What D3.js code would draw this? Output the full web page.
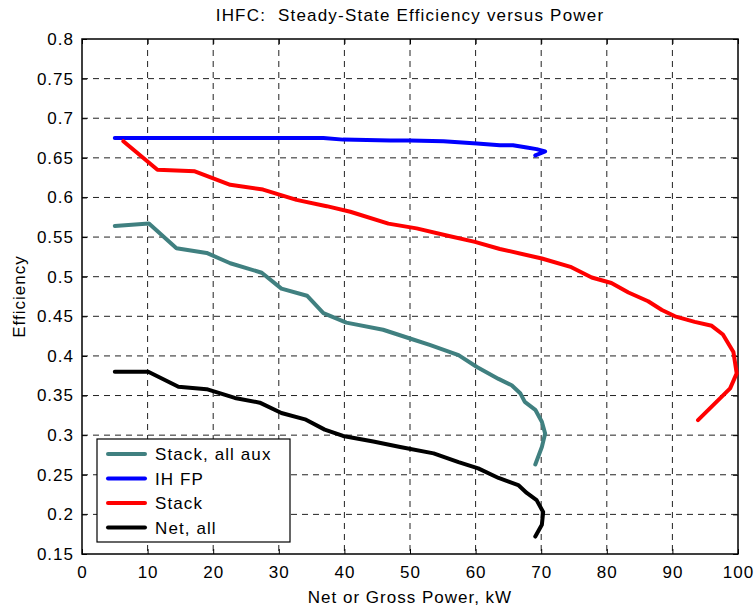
<!DOCTYPE html>
<html>
<head>
<meta charset="utf-8">
<script src="https://cdn.jsdelivr.net/npm/d3@7"></script>
<style>
  body { margin: 0; background: #fff; }
  text { font-family: "Liberation Sans", Arial, sans-serif; }
</style>
</head>
<body>
<svg id="chart" width="756" height="611"></svg>
<script>
// x = net or gross power (kW), y = efficiency
var stackAuxX = [5.0, 10.2, 14.4, 19.0, 22.6, 27.4, 30.4, 34.3, 36.8, 40.3, 45.9, 50.0, 53.0, 57.4, 60.2, 63.5, 65.5, 66.8, 67.5, 69.1, 70.1, 70.6, 70.1, 69.1];
var stackAuxY = [0.564, 0.567, 0.536, 0.530, 0.517, 0.505, 0.485, 0.476, 0.454, 0.442, 0.433, 0.422, 0.414, 0.401, 0.386, 0.371, 0.363, 0.353, 0.342, 0.332, 0.317, 0.302, 0.285, 0.263];

var ihfpX = [5.0, 36.8, 39.8, 47.0, 50.0, 55.1, 60.2, 63.7, 65.7, 67.8, 69.3, 70.6, 69.1];
var ihfpY = [0.675, 0.675, 0.673, 0.672, 0.672, 0.671, 0.668, 0.666, 0.666, 0.663, 0.661, 0.658, 0.653];

var stackX = [6.3, 11.5, 17.2, 22.6, 27.6, 32.7, 37.3, 40.9, 46.7, 51.0, 55.6, 59.9, 63.7, 70.1, 74.6, 77.7, 80.7, 83.3, 86.3, 88.4, 90.4, 93.4, 96.0, 97.7, 99.3, 99.8, 98.8, 93.9];
var stackY = [0.671, 0.635, 0.633, 0.616, 0.610, 0.597, 0.589, 0.582, 0.567, 0.561, 0.552, 0.544, 0.535, 0.523, 0.512, 0.499, 0.492, 0.480, 0.469, 0.458, 0.450, 0.443, 0.438, 0.427, 0.405, 0.378, 0.359, 0.319];

var netX = [5.0, 10.1, 14.7, 19.0, 23.3, 27.1, 30.4, 34.0, 37.0, 39.8, 44.4, 48.5, 53.6, 57.4, 60.4, 63.5, 66.5, 67.8, 69.3, 70.3, 70.1, 69.1];
var netY = [0.380, 0.380, 0.361, 0.358, 0.347, 0.341, 0.328, 0.320, 0.307, 0.299, 0.292, 0.285, 0.277, 0.266, 0.258, 0.246, 0.237, 0.227, 0.218, 0.203, 0.187, 0.172];

var xTicks = [0, 10, 20, 30, 40, 50, 60, 70, 80, 90, 100];
var yTicks = [0.15, 0.2, 0.25, 0.3, 0.35, 0.4, 0.45, 0.5, 0.55, 0.6, 0.65, 0.7, 0.75, 0.8];

var seriesNames = ["Stack, all aux", "IH FP", "Stack", "Net, all"];
var seriesColors = ["#408080", "#0000ff", "#ff0000", "#000000"];

var svg = d3.select("#chart"),
    margin = {top: 39, right: 18, bottom: 57, left: 82},
    width = +svg.attr("width") - margin.left - margin.right,
    height = +svg.attr("height") - margin.top - margin.bottom;

var x = d3.scaleLinear().domain([0, 100]).range([0, width]),
    y = d3.scaleLinear().domain([0.15, 0.8]).range([height, 0]);

var g = svg.append("g")
    .attr("transform", "translate(" + margin.left + "," + margin.top + ")");

// grid
g.append("g").selectAll("line")
    .data(xTicks.slice(1, -1))
    .enter().append("line")
    .attr("x1", function(d) { return x(d); })
    .attr("x2", function(d) { return x(d); })
    .attr("y1", 0).attr("y2", height)
    .attr("stroke", "#222").attr("stroke-width", 1)
    .attr("stroke-dasharray", "6,5");

g.append("g").selectAll("line")
    .data(yTicks.slice(1, -1))
    .enter().append("line")
    .attr("y1", function(d) { return y(d); })
    .attr("y2", function(d) { return y(d); })
    .attr("x1", 0).attr("x2", width)
    .attr("stroke", "#222").attr("stroke-width", 1)
    .attr("stroke-dasharray", "6,5");

// axes, ticks inward
var fmtY = function(d) { return d3.format("")(+d.toFixed(2)); };

g.append("g")
    .attr("transform", "translate(0," + height + ")")
    .call(d3.axisBottom(x).tickValues(xTicks).tickSizeInner(-5).tickSizeOuter(0).tickPadding(12))
    .call(function(a) { a.select(".domain").remove(); });

g.append("g")
    .call(d3.axisLeft(y).tickValues(yTicks).tickFormat(fmtY).tickSizeInner(-5).tickSizeOuter(0).tickPadding(8))
    .call(function(a) { a.select(".domain").remove(); });

g.append("g")
    .call(d3.axisTop(x).tickValues(xTicks).tickFormat("").tickSizeInner(-5).tickSizeOuter(0))
    .call(function(a) { a.select(".domain").remove(); });

g.append("g")
    .attr("transform", "translate(" + width + ",0)")
    .call(d3.axisRight(y).tickValues(yTicks).tickFormat("").tickSizeInner(-5).tickSizeOuter(0))
    .call(function(a) { a.select(".domain").remove(); });

g.selectAll(".tick text")
    .attr("font-size", "17px")
    .attr("letter-spacing", "1px")
    .attr("font-family", "Liberation Sans, Arial, sans-serif")
    .attr("fill", "#000");

g.append("rect")
    .attr("width", width).attr("height", height)
    .attr("fill", "none").attr("stroke", "#000").attr("stroke-width", 1.5);

// series
var line = d3.line()
    .x(function(d) { return x(d[0]); })
    .y(function(d) { return y(d[1]); });

var series = [
  d3.zip(stackAuxX, stackAuxY),
  d3.zip(ihfpX, ihfpY),
  d3.zip(stackX, stackY),
  d3.zip(netX, netY)
];

series.forEach(function(s, i) {
  g.append("path")
      .datum(s)
      .attr("d", line)
      .attr("fill", "none")
      .attr("stroke", seriesColors[i])
      .attr("stroke-width", 4)
      .attr("stroke-linejoin", "round")
      .attr("stroke-linecap", "round");
});

// legend
var legend = g.append("g").attr("transform", "translate(15,400)");
legend.append("rect")
    .attr("width", 193).attr("height", 103)
    .attr("fill", "#fff").attr("stroke", "#000").attr("stroke-width", 1.2);

seriesNames.forEach(function(name, i) {
  var ly = 15 + i * 24.5;
  legend.append("line")
      .attr("x1", 11).attr("x2", 48)
      .attr("y1", ly).attr("y2", ly)
      .attr("stroke", seriesColors[i]).attr("stroke-width", 4)
      .attr("stroke-linecap", "round");
  legend.append("text")
      .attr("x", 58).attr("y", ly + 6)
      .attr("font-size", "17px")
      .attr("letter-spacing", "1.1px")
      .text(name);
});

// labels
svg.append("text")
    .attr("x", margin.left + width / 2).attr("y", 21)
    .attr("text-anchor", "middle")
    .attr("font-size", "17px")
    .attr("letter-spacing", "1.2px")
    .text("IHFC:  Steady-State Efficiency versus Power")
    .attr("xml:space", "preserve")
    .style("white-space", "pre");

svg.append("text")
    .attr("x", margin.left + width / 2).attr("y", 603)
    .attr("text-anchor", "middle")
    .attr("font-size", "17px")
    .attr("letter-spacing", "1px")
    .text("Net or Gross Power, kW");

svg.append("text")
    .attr("transform", "translate(25," + (margin.top + height / 2) + ") rotate(-90)")
    .attr("text-anchor", "middle")
    .attr("font-size", "17px")
    .attr("letter-spacing", "1px")
    .text("Efficiency");
</script>
</body>
</html>
